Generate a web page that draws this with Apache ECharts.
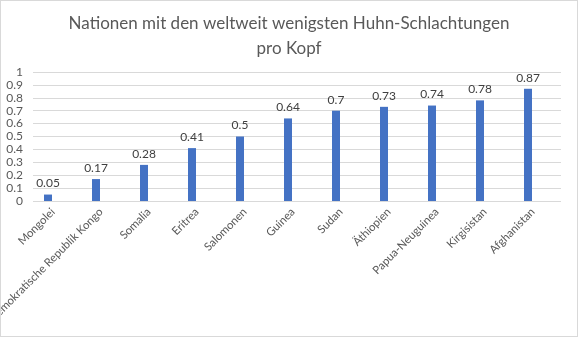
<!DOCTYPE html>
<html>
<head>
<meta charset="utf-8">
<script src="https://cdn.jsdelivr.net/npm/echarts@6/dist/echarts.min.js"></script>
<style>
html,body{margin:0;padding:0;background:#fff;}
#c{width:576px;height:335px;border:1px solid #d9d9d9;}
</style>
</head>
<body>
<div id="c"></div>
<script>
const titleText = "Nationen mit den weltweit wenigsten Huhn-Schlachtungen\npro Kopf";
const categories = ["Mongolei","Demokratische Republik Kongo","Somalia","Eritrea","Salomonen","Guinea","Sudan","Äthiopien","Papua-Neuguinea","Kirgisistan","Afghanistan"];
const values = [0.05,0.17,0.28,0.41,0.5,0.64,0.7,0.73,0.74,0.78,0.87];
const yMin = 0, yMax = 1, yStep = 0.1;

const FONT = "Lato";
const gridBase = {width: 528, top: 71, height: 129, containLabel: false, outerBoundsMode: 'none'};
const chart = echarts.init(document.getElementById('c'));
chart.setOption({
  animation: false,
  title: {
    text: titleText, left: 'center', top: 5,
    textStyle: {fontFamily: FONT, fontSize: 17, fontWeight: 'normal', color: '#595959', lineHeight: 25}
  },
  grid: [
    Object.assign({left: 23}, gridBase),
    Object.assign({left: 32}, gridBase),
    Object.assign({left: 28}, gridBase)
  ],
  xAxis: [
    {type: 'category', gridIndex: 0, data: categories,
     axisLine: {show: false}, axisTick: {show: false}, axisLabel: {show: false}},
    {type: 'value', gridIndex: 1, show: false, min: 0, max: 1},
    {type: 'category', gridIndex: 2, data: categories,
     axisLine: {show: false}, axisTick: {show: false},
     axisLabel: {rotate: 45, margin: 9, interval: 0, fontFamily: FONT, fontSize: 11.3, color: '#595959'}}
  ],
  yAxis: [
    {type: 'value', gridIndex: 0, min: yMin, max: yMax, interval: yStep, show: false},
    {type: 'value', gridIndex: 1, min: yMin, max: yMax, interval: yStep,
     axisLine: {show: false}, axisTick: {show: false},
     splitLine: {lineStyle: {color: '#d9d9d9', width: 1}},
     axisLabel: {margin: 10, fontFamily: FONT, fontSize: 12, color: '#595959'}},
    {type: 'value', gridIndex: 2, min: yMin, max: yMax, interval: yStep, show: false}
  ],
  series: [{
    type: 'bar', xAxisIndex: 0, yAxisIndex: 0, data: values,
    barWidth: 8, itemStyle: {color: '#4472c4'},
    label: {show: true, position: 'top', distance: 5, fontFamily: FONT, fontSize: 12, color: '#404040'}
  }]
});
</script>
</body>
</html>
